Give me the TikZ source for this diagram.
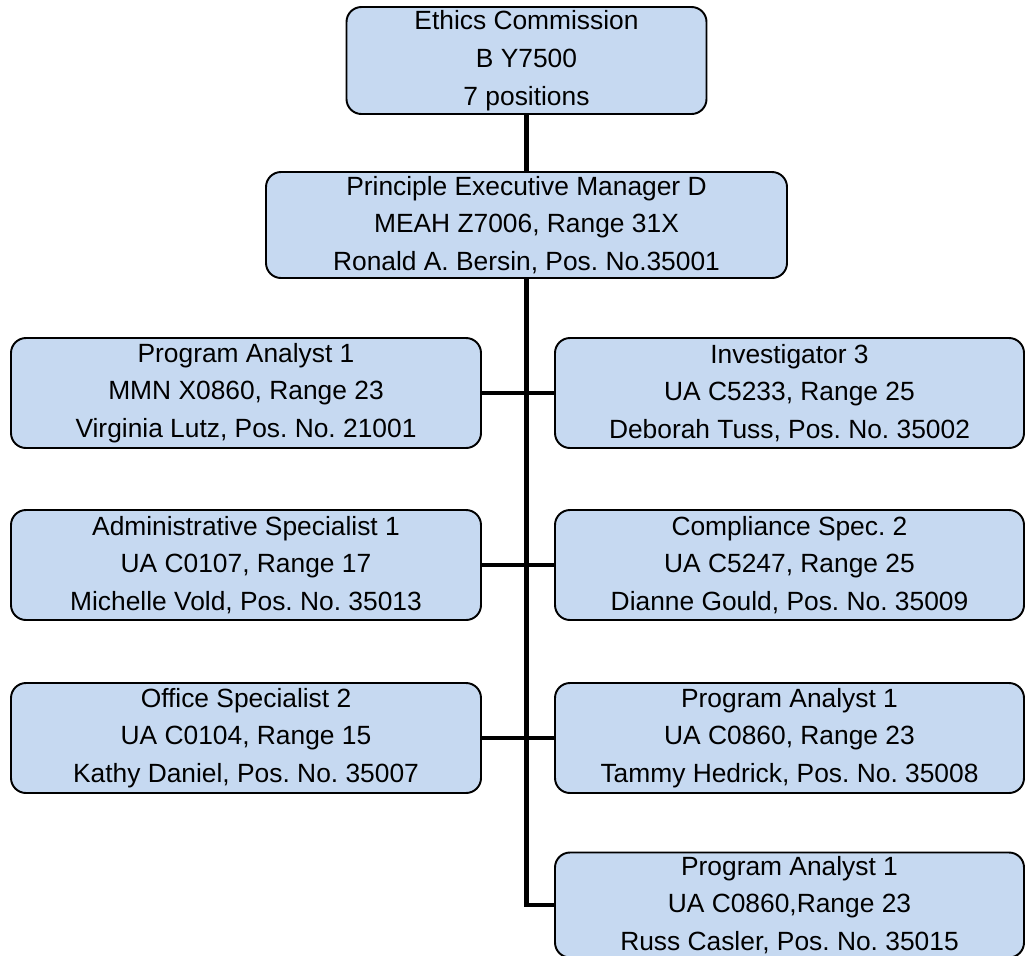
\documentclass[tikz,border=0pt]{standalone}
\usepackage{fontspec}
\setmainfont{Liberation Sans}
\usepackage{xcolor}
\frenchspacing

\definecolor{boxblue}{HTML}{C6D9F1}

\tikzset{
  post/.style={draw=black,line width=1.1pt,fill=boxblue,rounded corners=0.3cm,
    align=center,inner sep=0pt,minimum height=2.2cm,
    font=\fontsize{15}{21.5}\selectfont},
  link/.style={line width=2.6pt}
}

\begin{document}
\begin{tikzpicture}
        \useasboundingbox (0,0) rectangle (20.52,-19.1);

        % Draw the boxes
        \node[post,minimum width=7.2cm,minimum height=2.14cm] (ec) at (10.53,-1.21)
          {Ethics Commission\\B Y7500\\7 positions};
        \node[post,minimum width=10.42cm,minimum height=2.12cm] (pem) at (10.53,-4.5)
          {Principle Executive Manager D\\MEAH Z7006, Range 31X\\Ronald A. Bersin, Pos. No.35001};

        \node[post,minimum width=9.4cm] (pa1) at (4.92,-7.86)
          {Program Analyst 1\\MMN X0860, Range 23\\Virginia Lutz, Pos. No. 21001};
        \node[post,minimum width=9.38cm] (inv) at (15.79,-7.86)
          {Investigator 3\\UA C5233, Range 25\\Deborah Tuss, Pos. No. 35002};

        \node[post,minimum width=9.4cm] (adm) at (4.92,-11.3)
          {Administrative Specialist 1\\UA C0107, Range 17\\Michelle Vold, Pos. No. 35013};
        \node[post,minimum width=9.38cm] (comp) at (15.79,-11.3)
          {Compliance Spec. 2\\UA C5247, Range 25\\Dianne Gould, Pos. No. 35009};

        \node[post,minimum width=9.4cm] (off) at (4.92,-14.76)
          {Office Specialist 2\\UA C0104, Range 15\\Kathy Daniel, Pos. No. 35007};
        \node[post,minimum width=9.38cm] (pa2) at (15.79,-14.76)
          {Program Analyst 1\\UA C0860, Range 23\\Tammy Hedrick, Pos. No. 35008};

        \node[post,minimum width=9.38cm,minimum height=2.1cm] (pa3) at (15.79,-18.1)
          {Program Analyst 1\\UA C0860,Range 23\\Russ Casler, Pos. No. 35015};

        % Draw the connectors
        \draw[link] (ec.south) -- (pem.north);
        \draw[link] (pem.south) |- (pa3.west);
        \draw[link,line width=2.2pt] (pa1.east) -- (inv.west);
        \draw[link,line width=2.2pt] (adm.east) -- (comp.west);
        \draw[link,line width=2.2pt] (off.east) -- (pa2.west);
    \end{tikzpicture}
\end{document}
